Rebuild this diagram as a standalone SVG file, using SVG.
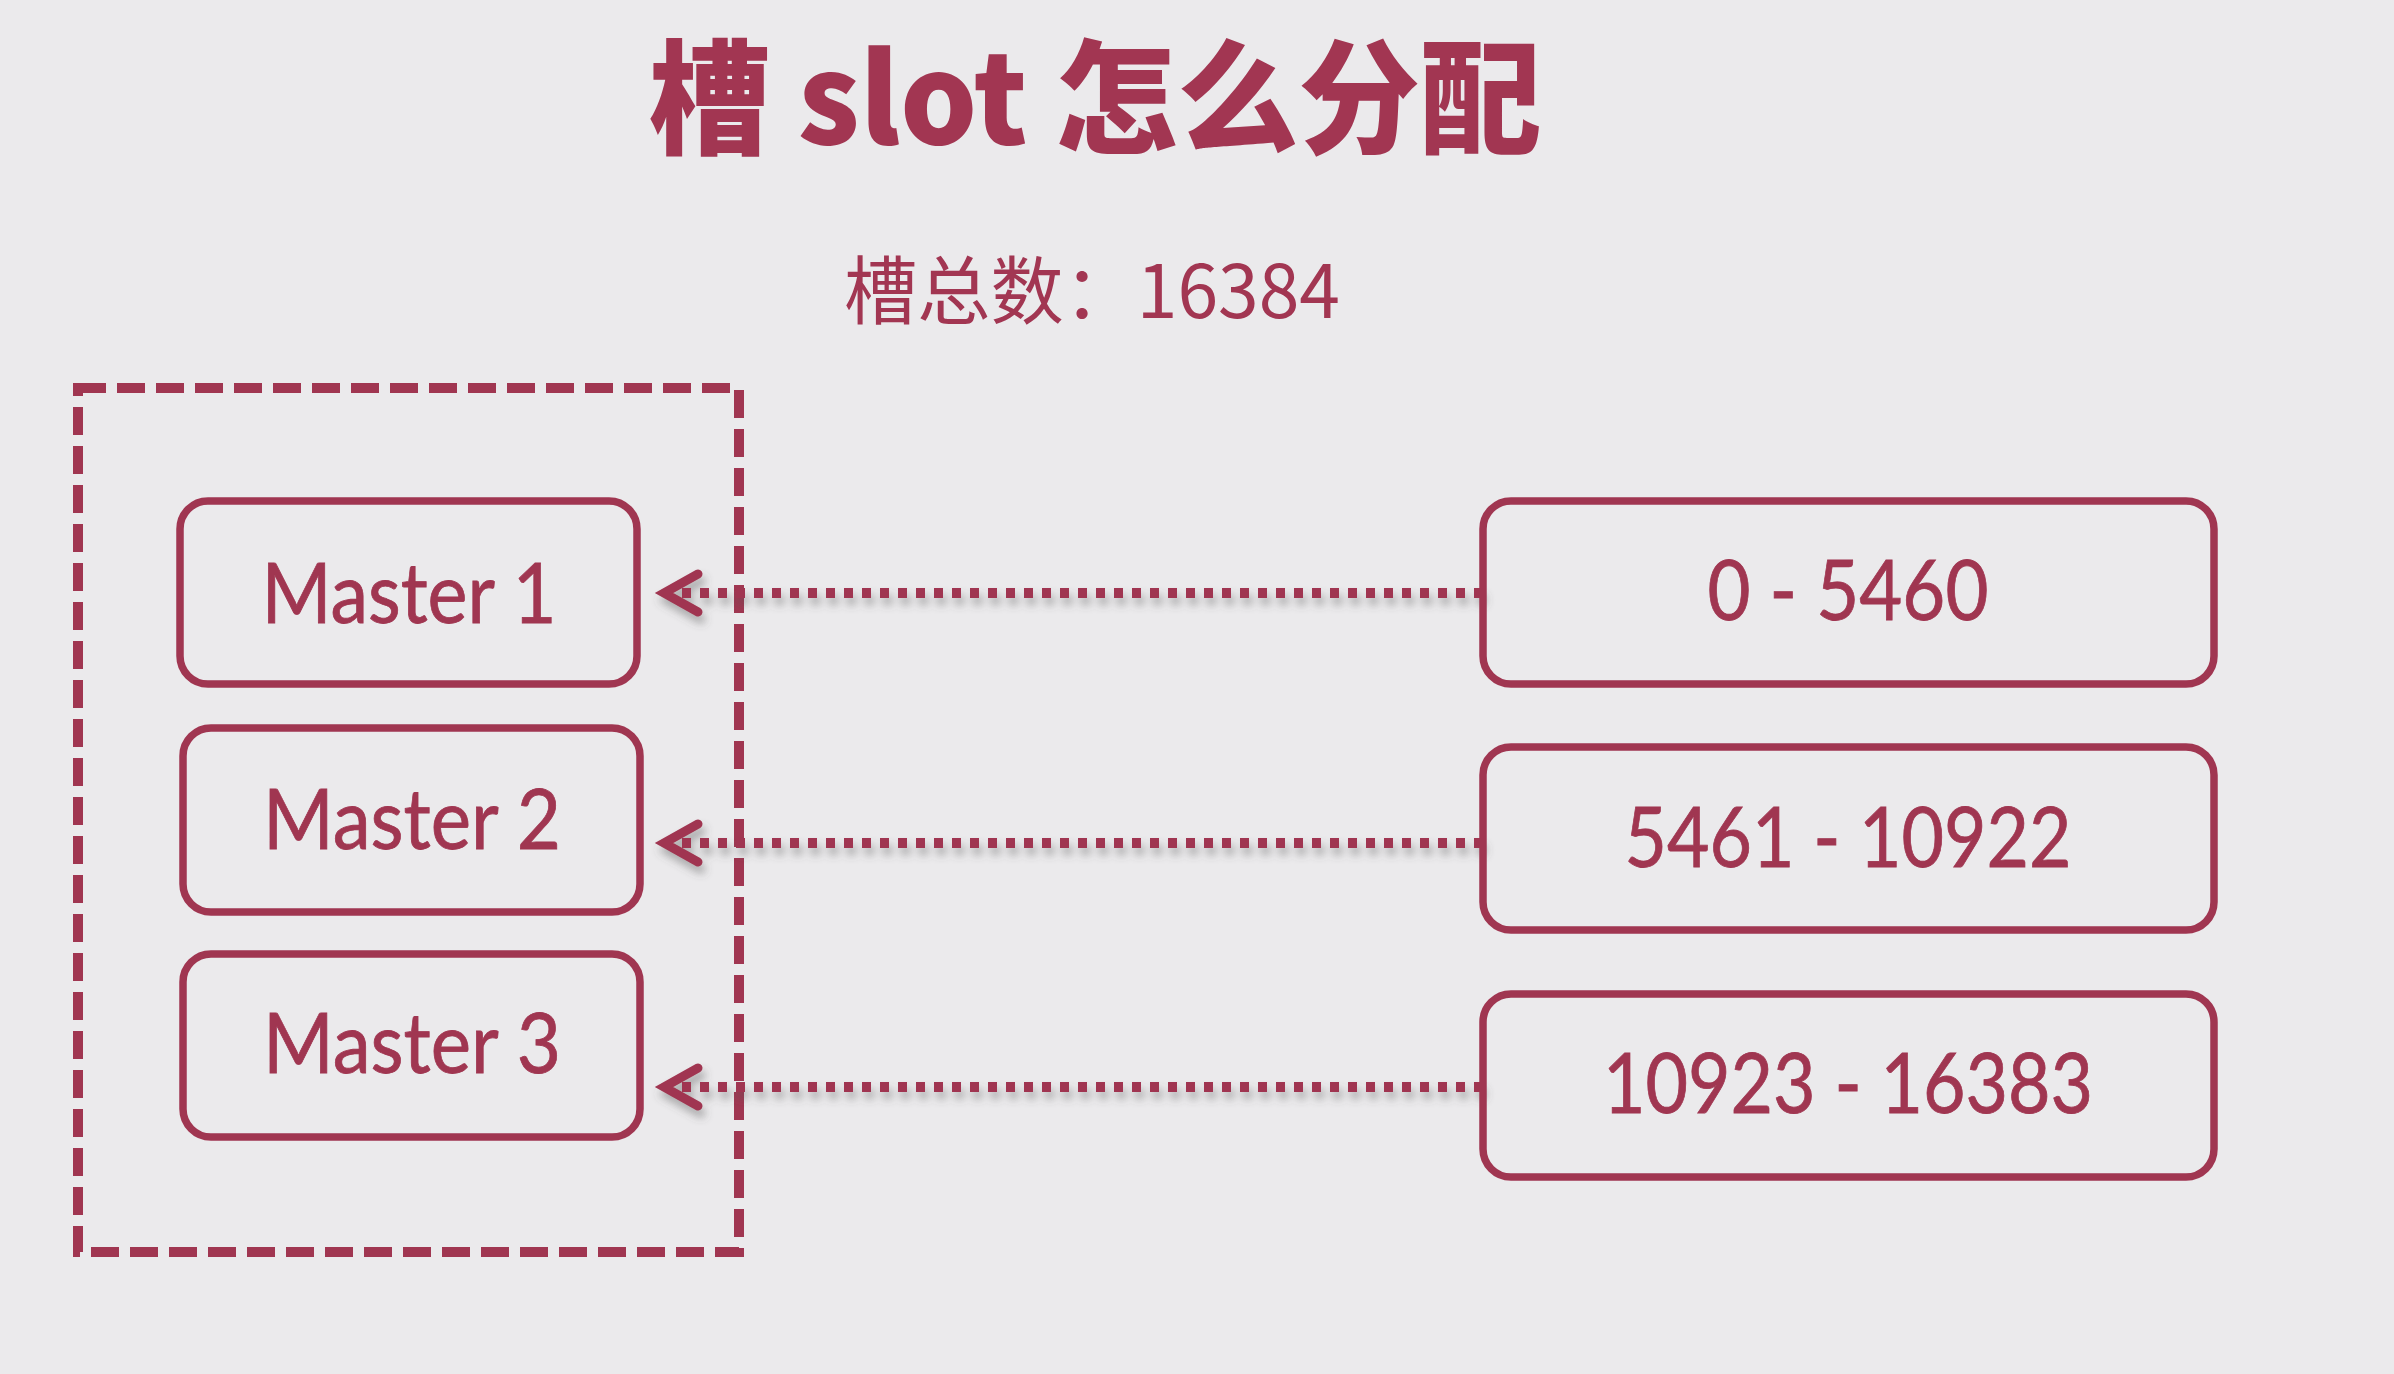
<svg xmlns="http://www.w3.org/2000/svg" width="2394" height="1374" viewBox="0 0 2394 1374">
<defs>
<style>
.bg{fill:#ebeaec}
.title{font-family:"Noto Sans CJK SC","Noto Sans",sans-serif;font-weight:900;fill:#a23652}
.sub{font-family:"Noto Sans CJK SC","Noto Sans",sans-serif;font-weight:400;fill:#a23652}
.box{fill:none;stroke:#a03651;stroke-width:7.5}
.lbl{font-family:Lato,"Noto Sans",sans-serif;font-size:84px;fill:#a03651;text-anchor:middle;stroke:#a03651;stroke-width:0.8}
.group{fill:none;stroke:#a03651;stroke-width:10;stroke-dasharray:28 11}
.conn{stroke:#a03651;stroke-width:10;stroke-dasharray:9 9;fill:none}
</style>
<filter id="sh" x="-5%" y="-100%" width="110%" height="400%">
<feDropShadow dx="3" dy="7" stdDeviation="4" flood-color="#555" flood-opacity="0.45"/>
</filter>
<marker id="chev" markerUnits="userSpaceOnUse" viewBox="-45 -25 50 50" markerWidth="50" markerHeight="50" refX="0" refY="0" orient="auto" overflow="visible">
<path d="M-34,-19 L0,0 L-34,19" fill="none" stroke="#a03651" stroke-width="9" stroke-linecap="round" stroke-linejoin="miter"/>
</marker>
</defs>
<rect class="bg" x="0" y="0" width="2394" height="1374"/>
<g id="title">
<text class="title" x="1095" y="144" font-size="124" text-anchor="middle" textLength="893" lengthAdjust="spacingAndGlyphs">槽 slot 怎么分配</text>
</g>
<g id="subtitle">
<text class="sub" x="1092" y="318" font-size="74" text-anchor="middle" textLength="496" lengthAdjust="spacingAndGlyphs">槽总数：16384</text>
</g>
<g id="cluster">
<rect class="group" x="78" y="388" width="661" height="864"/>
</g>
<g id="connectors" filter="url(#sh)">
<line class="conn" x1="1483" y1="593" x2="664" y2="593" marker-end="url(#chev)"/>
<line class="conn" x1="1483" y1="843" x2="664" y2="843" marker-end="url(#chev)"/>
<line class="conn" x1="1483" y1="1087" x2="664" y2="1087" marker-end="url(#chev)"/>
</g>
<g id="master1">
<rect class="box" x="180" y="501" width="457" height="183" rx="28"/>
<text class="lbl" x="409" y="623" textLength="295" lengthAdjust="spacingAndGlyphs">Master 1</text>
</g>
<g id="master2">
<rect class="box" x="183" y="728" width="457" height="184" rx="28"/>
<text class="lbl" x="412" y="849" textLength="298" lengthAdjust="spacingAndGlyphs">Master 2</text>
</g>
<g id="master3">
<rect class="box" x="183" y="954" width="457" height="183" rx="28"/>
<text class="lbl" x="412" y="1073" textLength="298" lengthAdjust="spacingAndGlyphs">Master 3</text>
</g>
<g id="range1">
<rect class="box" x="1483" y="501" width="731" height="183" rx="28"/>
<text class="lbl" x="1848" y="620" textLength="281" lengthAdjust="spacingAndGlyphs">0 - 5460</text>
</g>
<g id="range2">
<rect class="box" x="1483" y="747" width="731" height="183" rx="28"/>
<text class="lbl" x="1848" y="867" textLength="447" lengthAdjust="spacingAndGlyphs">5461 - 10922</text>
</g>
<g id="range3">
<rect class="box" x="1483" y="994" width="731" height="183" rx="28"/>
<text class="lbl" x="1848" y="1113" textLength="490" lengthAdjust="spacingAndGlyphs">10923 - 16383</text>
</g>
</svg>
